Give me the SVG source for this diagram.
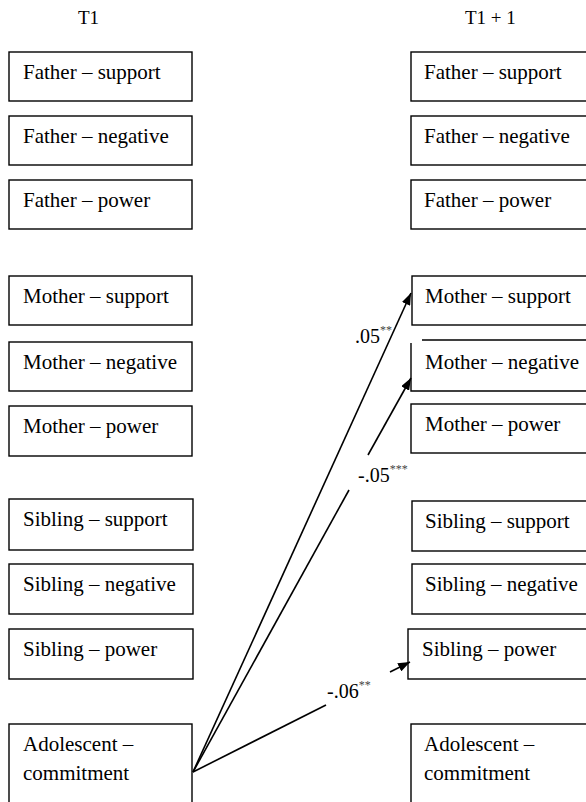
<svg xmlns="http://www.w3.org/2000/svg" width="586" height="802" viewBox="0 0 586 802">
<style>
.box{fill:#fff;stroke:#000;stroke-width:1.4}
.edge{fill:none;stroke:#000;stroke-width:1.6}
text{font-family:"Liberation Serif","Times New Roman","DejaVu Serif",serif;fill:#000}
.t{font-size:21px}
.h{font-size:19px}
.lbl{font-size:20px}
.sup{font-size:12px;fill:#444}
</style>
<defs>
<marker id="ah" viewBox="0 0 12 9" refX="12" refY="4.5" markerWidth="12" markerHeight="9" markerUnits="userSpaceOnUse" orient="auto">
<path d="M0,0 L12,4.5 L0,9 Z" fill="#000"/>
</marker>
</defs>
<rect width="586" height="802" fill="#fff"/>
<text class="h" x="78" y="24">T1</text>
<text class="h" x="465" y="24">T1 + 1</text>

<g id="l-father-support"><rect class="box" x="9" y="52" width="183" height="49"/><text class="t" x="23" y="79">Father – support</text></g>
<g id="l-father-negative"><rect class="box" x="9" y="116" width="183" height="49"/><text class="t" x="23" y="143">Father – negative</text></g>
<g id="l-father-power"><rect class="box" x="9" y="180" width="183" height="49"/><text class="t" x="23" y="207">Father – power</text></g>
<g id="l-mother-support"><rect class="box" x="9" y="276" width="183" height="49"/><text class="t" x="23" y="303">Mother – support</text></g>
<g id="l-mother-negative"><rect class="box" x="9" y="342" width="183" height="49"/><text class="t" x="23" y="369">Mother – negative</text></g>
<g id="l-mother-power"><rect class="box" x="9" y="406" width="183" height="50"/><text class="t" x="23" y="433">Mother – power</text></g>
<g id="l-sibling-support"><rect class="box" x="9" y="499" width="184" height="51"/><text class="t" x="23" y="526">Sibling – support</text></g>
<g id="l-sibling-negative"><rect class="box" x="9" y="564" width="184" height="50"/><text class="t" x="23" y="591">Sibling – negative</text></g>
<g id="l-sibling-power"><rect class="box" x="9" y="629" width="184" height="50"/><text class="t" x="23" y="656">Sibling – power</text></g>
<g id="l-adolescent"><rect class="box" x="9" y="724" width="183" height="90"/><text class="t" x="23" y="751">Adolescent –</text><text class="t" x="23" y="780">commitment</text></g>

<g id="r-father-support"><rect class="box" x="411" y="52" width="190" height="49"/><text class="t" x="424" y="79">Father – support</text></g>
<g id="r-father-negative"><rect class="box" x="411" y="116" width="190" height="49"/><text class="t" x="424" y="143">Father – negative</text></g>
<g id="r-father-power"><rect class="box" x="411" y="180" width="190" height="49"/><text class="t" x="424" y="207">Father – power</text></g>
<g id="r-mother-support"><rect class="box" x="412" y="276" width="190" height="49"/><text class="t" x="425" y="303">Mother – support</text></g>
<g id="r-mother-negative"><path class="box" d="M422,340 H602 M411,343 V391 H602" fill="none"/><text class="t" x="425" y="369">Mother – negative</text></g>
<g id="r-mother-power"><rect class="box" x="411" y="404" width="190" height="49"/><text class="t" x="425" y="431">Mother – power</text></g>
<g id="r-sibling-support"><rect class="box" x="412" y="501" width="190" height="50"/><text class="t" x="425" y="528">Sibling – support</text></g>
<g id="r-sibling-negative"><rect class="box" x="412" y="564" width="190" height="50"/><text class="t" x="425" y="591">Sibling – negative</text></g>
<g id="r-sibling-power"><rect class="box" x="408" y="629" width="194" height="50"/><text class="t" x="422" y="656">Sibling – power</text></g>
<g id="r-adolescent"><rect class="box" x="411" y="724" width="190" height="90"/><text class="t" x="424" y="751">Adolescent –</text><text class="t" x="424" y="780">commitment</text></g>

<g id="connectors">
<path class="edge" d="M193,772 L411,293" marker-end="url(#ah)"/>
<path class="edge" d="M193,772 L349,490"/>
<path class="edge" d="M368,455 L411,378" marker-end="url(#ah)"/>
<path class="edge" d="M193,772 L326,705"/>
<path class="edge" d="M390,672 L410,662" marker-end="url(#ah)"/>
<text class="lbl" x="355" y="343">.05<tspan class="sup" dy="-9">**</tspan></text>
<text class="lbl" x="358" y="482">-.05<tspan class="sup" dy="-9">***</tspan></text>
<text class="lbl" x="327" y="698">-.06<tspan class="sup" dy="-9">**</tspan></text>
</g>
</svg>
